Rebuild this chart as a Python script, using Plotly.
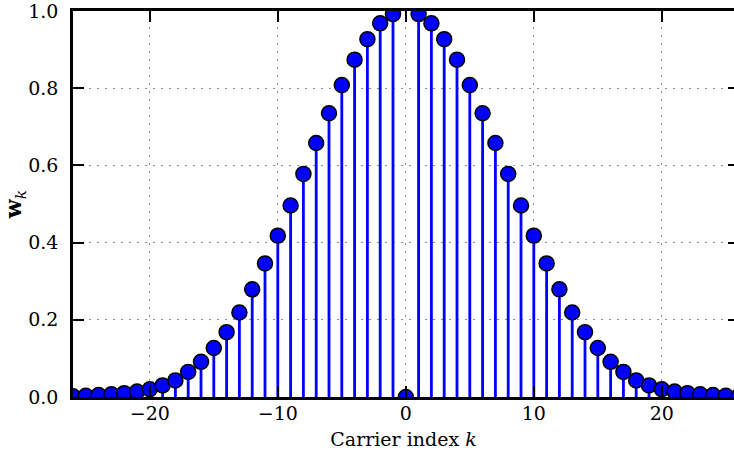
import plotly.graph_objects as go

# Carrier indices and window weights w_k
carriers = list(range(-26, 27))
weights = [
    0.002, 0.003, 0.005, 0.007, 0.010, 0.014, 0.020, 0.030, 0.043, 0.065,
    0.091, 0.127, 0.168, 0.219, 0.279, 0.346, 0.418, 0.496, 0.578, 0.658,
    0.735, 0.808, 0.874, 0.927, 0.968, 0.992,
    0.0,
    0.992, 0.968, 0.927, 0.874, 0.808, 0.735, 0.658, 0.578, 0.496, 0.418,
    0.346, 0.279, 0.219, 0.168, 0.127, 0.091, 0.065, 0.043, 0.030, 0.020,
    0.014, 0.010, 0.007, 0.005, 0.003, 0.002,
]
x_ticks = [-20, -10, 0, 10, 20]
y_ticks = [0.0, 0.2, 0.4, 0.6, 0.8, 1.0]

BLUE = "#0000ff"
FONT = "DejaVu Serif"
FONT_SIZE = 19

fig = go.Figure()

# Stem plot: downward error bars act as the stems, markers sit on top
fig.add_trace(go.Scatter(
    x=carriers,
    y=weights,
    mode="markers",
    marker=dict(size=15, color=BLUE, line=dict(color="black", width=1.5)),
    error_y=dict(
        type="data",
        symmetric=False,
        array=[0] * len(weights),
        arrayminus=weights,
        color=BLUE,
        thickness=2.8,
        width=0,
    ),
    cliponaxis=True,
    showlegend=False,
    hoverinfo="skip",
))

# Helper trace on the right-hand axis that carries the mirrored tick marks
fig.add_trace(go.Scatter(x=[0], y=[0], yaxis="y2", mode="markers",
                         marker=dict(opacity=0), showlegend=False,
                         hoverinfo="skip"))

grid_dash = "2px,6px"

fig.update_layout(
    width=734,
    height=456,
    margin=dict(l=73, r=0, t=11, b=59),
    paper_bgcolor="white",
    plot_bgcolor="white",
    font=dict(family=FONT, size=FONT_SIZE, color="black"),
    xaxis=dict(
        range=[-26, 25.64],
        tickvals=x_ticks,
        ticks="inside",
        ticklen=11,
        tickwidth=1.5,
        tickcolor="black",
        showline=True,
        linecolor="black",
        linewidth=2.5,
        mirror="ticks",
        showgrid=True,
        gridcolor="#8c8c8c",
        gridwidth=1,
        griddash=grid_dash,
        zeroline=False,
        ticklabelstandoff=-3,
        ticklabeloverflow="allow",
        tickfont=dict(family=FONT, size=FONT_SIZE),
        title=dict(text="Carrier index <i>k</i>", standoff=11,
                   font=dict(family=FONT, size=FONT_SIZE)),
    ),
    yaxis=dict(
        range=[0, 1],
        tickvals=y_ticks,
        tickformat=".1f",
        ticks="inside",
        ticklen=11,
        tickwidth=1.5,
        tickcolor="black",
        showline=True,
        linecolor="black",
        linewidth=2.5,
        mirror=False,
        showgrid=True,
        gridcolor="#8c8c8c",
        gridwidth=1,
        griddash=grid_dash,
        zeroline=False,
        ticklabelstandoff=8,
        ticklabeloverflow="allow",
        tickfont=dict(family=FONT, size=FONT_SIZE),
        title=dict(text="<b>w</b><sub><i>k</i></sub>", standoff=10,
                   font=dict(family=FONT, size=22)),
    ),
    yaxis2=dict(
        overlaying="y",
        side="right",
        range=[0, 1],
        tickvals=y_ticks,
        ticks="inside",
        ticklen=6,
        tickwidth=1.5,
        tickcolor="black",
        showticklabels=False,
        showline=False,
        showgrid=False,
        zeroline=False,
    ),
)

fig.write_html("out.html")
